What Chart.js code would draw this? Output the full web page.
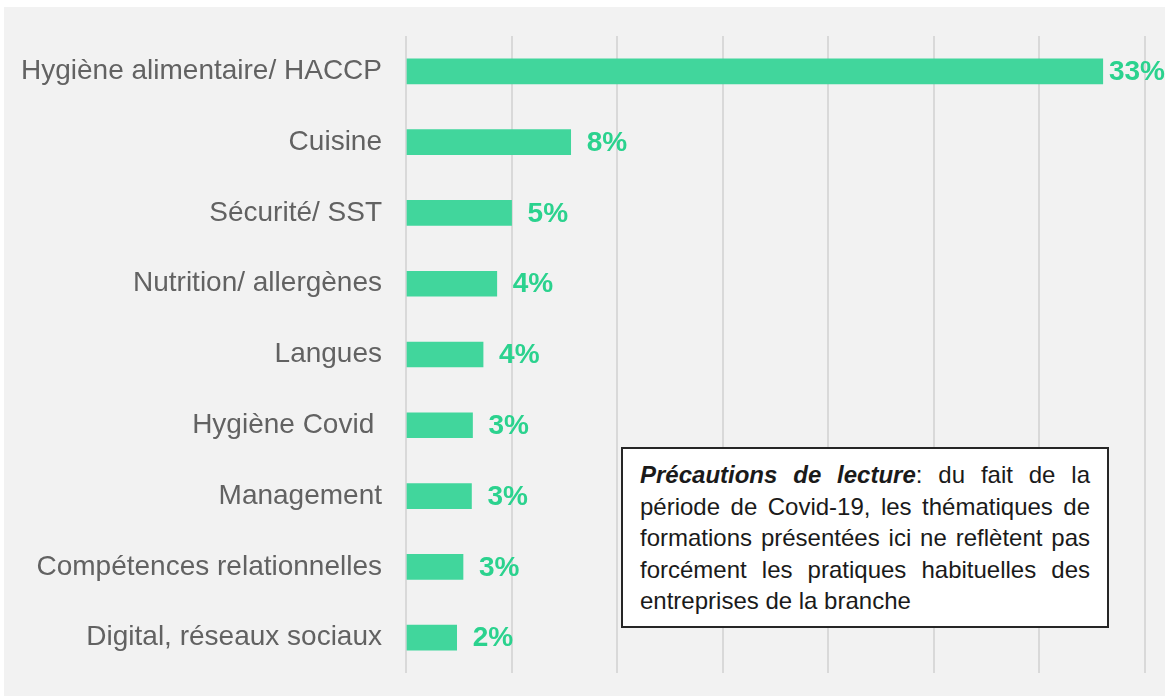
<!DOCTYPE html>
<html>
<head>
<meta charset="utf-8">
<script src="https://cdn.jsdelivr.net/npm/chart.js@4"></script>
<style>
  html, body { margin: 0; padding: 0; background: #ffffff; }
  body { width: 1165px; height: 696px; position: relative; overflow: hidden; }
  #wrap { position: absolute; left: 4px; top: 7px; width: 1161px; height: 689px; background: #f2f2f2; }
  #note {
    position: absolute; left: 621px; top: 447px; width: 450px;
    padding: 10px 17px 9px 17px;
    border: 2px solid #262626; background: #ffffff;
    font-family: "Liberation Sans", Arial, sans-serif; font-size: 24px; line-height: 31.5px;
    color: #1a1a1a; text-align: justify;
  }
</style>
</head>
<body>
<div id="wrap"><canvas id="barChartThemes"></canvas></div>
<div id="note"><b><i>Précautions de lecture</i></b>: du fait de la période de Covid-19, les thématiques de formations présentées ici ne reflètent pas forcément les pratiques habituelles des entreprises de la branche</div>
<script>
const categories = [
  "Hygiène alimentaire/ HACCP",
  "Cuisine",
  "Sécurité/ SST",
  "Nutrition/ allergènes",
  "Langues",
  "Hygiène Covid ",
  "Management",
  "Compétences relationnelles",
  "Digital, réseaux sociaux",
];
const shares = [33.0, 7.8, 5.0, 4.3, 3.65, 3.15, 3.1, 2.7, 2.4];
const axisMax = 35;
const axisStep = 5;

const green = "#41d69c";
const labelGreen = "#2bd28e";
const font = "'Liberation Sans', Arial, sans-serif";

// value labels to the right of each bar, kept inside the canvas
const valueLabels = {
  id: "valueLabels",
  afterDatasetsDraw(chart) {
    const ctx = chart.ctx;
    const meta = chart.getDatasetMeta(0);
    ctx.save();
    ctx.font = "bold 28px " + font;
    ctx.fillStyle = labelGreen;
    ctx.textBaseline = "middle";
    ctx.textAlign = "left";
    meta.data.forEach((bar, i) => {
      const text = Math.round(shares[i]) + "%";
      const w = ctx.measureText(text).width;
      const x = Math.min(bar.x + 16, chart.width - w);
      ctx.fillText(text, x, bar.y + 1);
    });
    ctx.restore();
  },
};

function drawThemesChart() {
  const ctx = document.getElementById("barChartThemes");

  new Chart(ctx, {
    type: "bar",
    data: {
      labels: categories,
      datasets: [
        {
          data: shares,
          backgroundColor: green,
          borderWidth: 0,
          barThickness: 25,
        },
      ],
    },
    options: {
      indexAxis: "y",
      responsive: true,
      maintainAspectRatio: false,
      animation: false,
      layout: { padding: { left: 0, top: 29, right: 20, bottom: 23 } },
      plugins: {
        legend: { display: false },
        tooltip: { enabled: false },
      },
      scales: {
        x: {
          min: 0,
          max: axisMax,
          ticks: { display: false, stepSize: axisStep },
          grid: { color: "#d9d9d9", lineWidth: 2, drawTicks: false },
          border: { display: false },
        },
        y: {
          ticks: {
            color: "#626262",
            font: { family: font, size: 28 },
            padding: 24,
          },
          grid: { display: false, drawTicks: false },
          border: { display: false },
          afterFit(scale) {
            scale.width = 402;
            // tick padding would otherwise be added above and below the axis
            scale.paddingTop = 0;
            scale.paddingBottom = 0;
          },
        },
      },
    },
    plugins: [valueLabels],
  });
}

drawThemesChart();
</script>
</body>
</html>
